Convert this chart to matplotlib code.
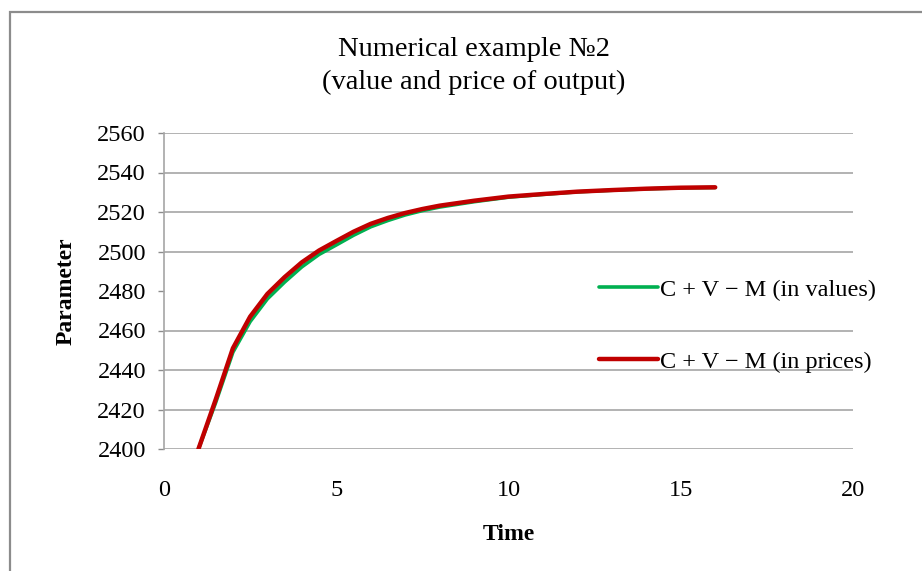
import matplotlib.pyplot as plt
from matplotlib.patches import Rectangle

plt.rcParams['font.family'] = ['Liberation Serif', 'DejaVu Serif']

# output of the model over time (half-step readings)
time = [1, 1.5, 2, 2.5, 3, 3.5, 4, 4.5, 5, 5.5, 6, 6.5, 7, 7.5, 8,
        9, 10, 11, 12, 13, 14, 15, 16]
in_values = [2400, 2423.5, 2449.0, 2464.5, 2476.0, 2484.5, 2492.2, 2498.5, 2503.3,
             2508.2, 2512.5, 2515.7, 2518.5, 2520.7, 2522.5,
             2525.2, 2527.5, 2528.9, 2530.2, 2531.0, 2531.7, 2532.2, 2532.4]
in_prices = [2400, 2425.0, 2451.0, 2467.0, 2478.5, 2487.0, 2494.5, 2500.5, 2505.3,
             2510.0, 2514.0, 2517.0, 2519.5, 2521.5, 2523.2,
             2525.7, 2527.8, 2529.1, 2530.3, 2531.1, 2531.8, 2532.3, 2532.5]

yticks = [2400, 2420, 2440, 2460, 2480, 2500, 2520, 2540, 2560]
grid_y = [2400, 2420, 2440, 2460, 2500, 2520, 2540, 2560]
xticks = [0, 5, 10, 15, 20]

fig = plt.figure(figsize=(9.22, 5.71), dpi=100)
# chart frame
fig.patches.append(Rectangle((10 / 922, -0.1), 1.2, (571 - 12) / 571 + 0.1,
                             transform=fig.transFigure, fill=False,
                             edgecolor='#8c8c8c', linewidth=1.6))

ax = fig.add_axes([164 / 922, 1 - 449 / 571, (853 - 164) / 922, (449 - 133) / 571])
for y in grid_y:
    ax.axhline(y, color='#a6a6a6', linewidth=1.2, zorder=1)

ax.plot(time, in_values, color='#00b050', linewidth=2.6, label='C + V \u2212 M (in values)',
        zorder=3, solid_capstyle='round', solid_joinstyle='round')
ax.plot(time, in_prices, color='#c00000', linewidth=3.2, label='C + V \u2212 M (in prices)',
        zorder=4, solid_capstyle='round', solid_joinstyle='round')

ax.set_xlim(0, 20)
ax.set_ylim(2400, 2560)
ax.set_xticks(xticks)
ax.set_yticks(yticks)
ax.tick_params(axis='x', length=0, pad=22, labelsize=17.5)
ax.tick_params(axis='y', length=4, width=1, color='#8c8c8c', pad=9, labelsize=17.5)
for s in ['top', 'right', 'bottom']:
    ax.spines[s].set_visible(False)
ax.spines['left'].set_color('#a6a6a6')
ax.spines['left'].set_linewidth(1.2)

ax.set_xlabel('Time', fontsize=17, fontweight='bold', labelpad=17)
ax.set_ylabel('Parameter', fontsize=17, fontweight='bold', labelpad=15)
fig.text(474 / 922, 1 - 66 / 571, 'Numerical example \u21162\n(value and price of output)',
         ha='center', va='center', fontsize=20.5, linespacing=1.42)

leg = ax.legend(loc='center left', bbox_to_anchor=(0.6, 0.39), frameon=False,
                fontsize=17.5, handlelength=2.4, handletextpad=0.1, labelspacing=2.07)

fig.savefig('out.png', dpi=100)
